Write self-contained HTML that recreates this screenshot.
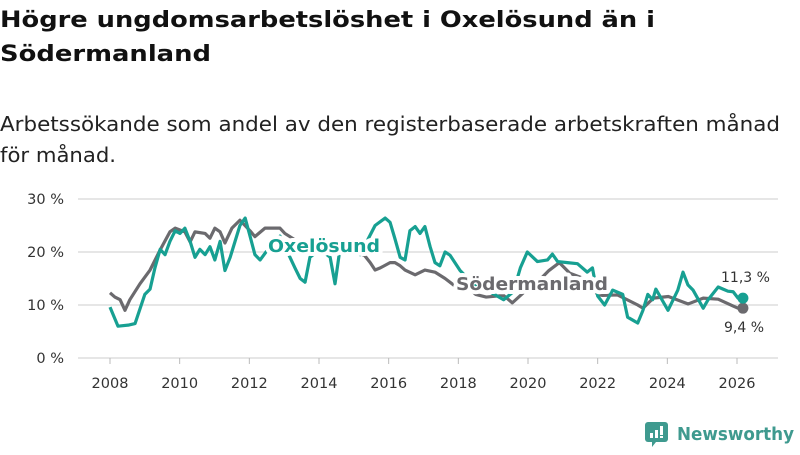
<!DOCTYPE html>
<html><head><meta charset="utf-8">
<style>
body{margin:0;background:#fff;width:800px;height:450px;overflow:hidden;font-family:"Liberation Sans","DejaVu Sans",sans-serif;}
svg text{font-family:"DejaVu Sans","Liberation Sans",sans-serif;}
</style></head>
<body>
<svg id="chart" width="800" height="450">
  <text x="0" y="27" font-size="22" font-weight="bold" fill="#111" textLength="655" lengthAdjust="spacingAndGlyphs">Högre ungdomsarbetslöshet i Oxelösund än i</text>
  <text x="0" y="61" font-size="22" font-weight="bold" fill="#111" textLength="211" lengthAdjust="spacingAndGlyphs">Södermanland</text>
  <text x="0" y="131" font-size="20" fill="#222" textLength="780" lengthAdjust="spacingAndGlyphs">Arbetssökande som andel av den registerbaserade arbetskraften månad</text>
  <text x="0" y="162" font-size="20" fill="#222" textLength="116" lengthAdjust="spacingAndGlyphs">för månad.</text>
  <g id="grid"></g><g id="series"></g><g id="labels"></g>
  <g>
    <rect x="645" y="422" width="23" height="20" rx="3" fill="#3f9a8f"/>
    <path d="M652 442 L656 442 L652 447 Z" fill="#3f9a8f"/>
    <rect x="650" y="433" width="3" height="5" fill="#fff"/><rect x="655" y="430" width="3" height="8" fill="#fff"/><rect x="660" y="426" width="3" height="9" fill="#fff"/><rect x="660" y="436" width="3" height="2" fill="#fff"/>
    <text x="677" y="440" font-size="18" font-weight="bold" fill="#3f9a8f" textLength="117" lengthAdjust="spacingAndGlyphs">Newsworthy</text>
  </g>
</svg>
<script>
const yTicks=[0,10,20,30];
const xTicks=[2008,2010,2012,2014,2016,2018,2020,2022,2024,2026];
const oxDates=[2008.0,2008.23,2008.52,2008.72,2009.0,2009.15,2009.29,2009.44,2009.58,2009.72,2009.87,2010.01,2010.15,2010.3,2010.44,2010.58,2010.73,2010.87,2011.01,2011.16,2011.3,2011.45,2011.59,2011.73,2011.88,2012.02,2012.16,2012.31,2012.59,2012.88,2013.31,2013.46,2013.6,2013.74,2014.03,2014.32,2014.46,2014.6,2014.89,2015.18,2015.61,2015.9,2016.04,2016.18,2016.33,2016.47,2016.61,2016.76,2016.9,2017.04,2017.19,2017.33,2017.47,2017.62,2017.76,2018.05,2018.5,2018.9,2019.3,2019.58,2019.78,2019.98,2020.27,2020.56,2020.7,2020.85,2021.13,2021.42,2021.7,2021.85,2022.0,2022.2,2022.43,2022.72,2022.86,2023.15,2023.3,2023.44,2023.58,2023.67,2024.02,2024.3,2024.45,2024.59,2024.74,2025.03,2025.17,2025.46,2025.6,2025.74,2025.89,2026.03,2026.17];
const oxValues=[9.6,6.0,6.2,6.5,12,13,17,20.5,19.5,22,24,23.5,24.5,22,19,20.5,19.5,21,18.5,22,16.5,19,22,25,26.4,23,19.5,18.5,21,23,17,15,14.3,19,20.5,19,14,20.5,21,19.5,25,26.4,25.6,22.5,19,18.5,24,24.8,23.5,24.8,21,18,17.4,20,19.4,16.5,13.5,12.5,11,12.5,17,20,18.2,18.5,19.6,18.2,18,17.8,16.2,17,11.7,10,12.8,12,7.7,6.6,9,12,11,13,9,12.8,16.2,13.8,12.8,9.4,11,13.4,13,12.6,12.5,11.3,11.3];
const sodDates=[2008.0,2008.14,2008.29,2008.43,2008.57,2008.86,2009.15,2009.44,2009.72,2009.87,2010.15,2010.3,2010.44,2010.73,2010.87,2011.01,2011.16,2011.3,2011.5,2011.73,2012.02,2012.16,2012.45,2012.88,2013.02,2013.5,2014.0,2014.6,2015.0,2015.3,2015.47,2015.61,2015.76,2016.04,2016.18,2016.33,2016.47,2016.76,2017.04,2017.33,2017.62,2017.9,2018.2,2018.5,2018.8,2019.3,2019.55,2019.9,2020.3,2020.6,2020.9,2021.2,2021.6,2022.0,2022.14,2022.57,2023.15,2023.3,2023.6,2024.03,2024.6,2025.03,2025.46,2025.89,2026.03,2026.17];
const sodValues=[12.3,11.5,11,9,11,14,16.6,20.4,23.8,24.5,23.8,21.9,23.8,23.5,22.6,24.5,23.8,21.7,24.5,26,24,22.9,24.5,24.5,23.5,21.5,20.5,19.8,20,19.4,18,16.6,17,18,18,17.4,16.6,15.7,16.6,16.2,15,13.6,13.8,12,11.5,11.8,10.4,12.5,14.5,16.5,18,16,15,12,11.8,11.9,10,9.4,11.3,11.6,10.2,11.3,11.1,9.8,9.4,9.4];
const X0=110,X1=737,Y0=358,Y1=199;
const xs=v=>X0+(v-2008)/(2026-2008)*(X1-X0);
const ys=v=>Y0-v/30*(Y0-Y1);
const NS="http://www.w3.org/2000/svg";
function mk(tag,attrs,parent){const e=document.createElementNS(NS,tag);for(const k in attrs)e.setAttribute(k,attrs[k]);parent.appendChild(e);return e;}
const grid=document.getElementById('grid');
yTicks.forEach(t=>{
  const l=mk('line',{x1:78,x2:778,y1:ys(t),y2:ys(t),stroke:'#ddd','stroke-width':1.5},grid);
  
  
  const tx=mk('text',{x:64,y:ys(t)+5,'font-size':14.5,fill:'#333','text-anchor':'end'},grid);
  tx.textContent=t+' %';
  
  
});
xTicks.forEach(t=>{
  const l=mk('line',{x1:xs(t),x2:xs(t),y1:Y0,y2:Y0+6,stroke:'#bbb','stroke-width':1},grid);
  
  
  const tx=mk('text',{x:xs(t),y:388,'font-size':14.5,fill:'#333','text-anchor':'middle'},grid);
  tx.textContent=t;
  
  
});
const sg=document.getElementById('series');
function line(d,v,color,name){
  const p=mk('polyline',{points:d.map((x,i)=>xs(x)+','+ys(v[i])).join(' '),fill:'none',stroke:color,'stroke-width':3.2,'stroke-linejoin':'round'},sg);
  
  
  const c=mk('circle',{cx:xs(d[d.length-1]),cy:ys(v[v.length-1]),r:5.5,fill:color},sg);
  
  
}
line(sodDates,sodValues,'#6b6a6e','sodermanland-line');
line(oxDates,oxValues,'#17a092','oxelosund-line');
const lg=document.getElementById('labels');
function lab(x,y,txt,color,name,size,bold,len){
  const a={x:x,y:y,'font-size':size,fill:color,'font-weight':bold?'bold':'normal',stroke:'#fff','stroke-width':bold?8:0,'paint-order':'stroke','stroke-linejoin':'round'};
  if(len){a.textLength=len;a.lengthAdjust='spacingAndGlyphs';}
  const t=mk('text',a,lg);
  t.textContent=txt;
  
  
}
lab(268,252,'Oxelösund','#17a092','oxelosund-label',18,true,112);
lab(456,290,'Södermanland','#6b6a6e','sodermanland-label',18,true,152);
lab(721,282,oxValues[oxValues.length-1].toString().replace('.',',')+' %','#333','oxelosund-value-label',14,false);
lab(724,332,sodValues[sodValues.length-1].toString().replace('.',',')+' %','#333','sodermanland-value-label',14,false);
</script>
</body></html>
